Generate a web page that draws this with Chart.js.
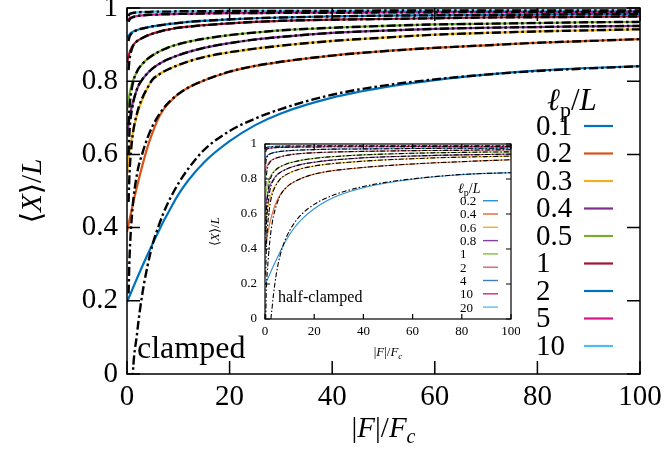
<!DOCTYPE html>
<html lang="en">
<head>
<meta charset="UTF-8">
<title>Mean extension vs. force</title>
<script src="https://cdn.jsdelivr.net/npm/chart.js@4"></script>
<style>
  html, body { margin: 0; padding: 0; background: #fff; }
  #wrap { position: relative; width: 665px; height: 459px; }
  #main { position: absolute; left: 0; top: 0; }
  #inset { position: absolute; left: 200px; top: 130px; }
</style>
</head>
<body>
<div id="wrap">
  <canvas id="main" width="665" height="459"></canvas>
  <canvas id="inset" width="320" height="240"></canvas>
</div>
<script>
// force grids |F|/Fc (simulation, theory)
const force    = [0,   0.5, 1, 2, 3, 4, 5, 6, 7, 8, 10, 12, 15, 20, 25, 30, 40, 50, 60, 70, 80, 90, 100];
const forceFit = [0.3, 0.5, 1, 2, 3, 4, 5, 6, 7, 8, 10, 12, 15, 20, 25, 30, 40, 50, 60, 70, 80, 90, 100];

const xTicks = [0, 20, 40, 60, 80, 100];
const yTicks = [0, 0.2, 0.4, 0.6, 0.8, 1];
const yTickLabels = ['0', '0.2', '0.4', '0.6', '0.8', '1'];

// clamped filament (main panel)
const lpClamped = ['0.1', '0.2', '0.3', '0.4', '0.5', '1', '2', '5', '10'];
const clampedColors = ['#0072BD', '#D95319', '#EDB120', '#7E2F8E', '#77AC30', '#A2142F', '#0072BD', '#D3168A', '#4DBEEE'];
const clampedSim = [
  [.197, .213, .230, .263, .295, .326, .356, .385, .414, .440, .490, .530, .578, .636, .680, .712, .755, .783, .803, .818, .829, .836, .841],
  [.388, .422, .455, .515, .570, .620, .660, .695, .720, .738, .765, .783, .802, .826, .842, .853, .870, .882, .891, .898, .905, .910, .915],
  [.545, .610, .650, .710, .750, .782, .805, .816, .825, .832, .844, .854, .866, .879, .889, .897, .910, .919, .927, .932, .936, .939, .942],
  [.650, .700, .735, .780, .805, .822, .835, .845, .853, .860, .871, .880, .891, .904, .914, .921, .932, .938, .943, .946, .948, .950, .951],
  [.720, .765, .795, .828, .847, .861, .871, .879, .886, .892, .901, .908, .916, .926, .933, .939, .946, .951, .955, .957, .959, .961, .962],
  [.850, .878, .895, .910, .918, .925, .930, .934, .938, .941, .946, .949, .953, .958, .962, .965, .968, .970, .972, .974, .975, .976, .977],
  [.918, .928, .934, .940, .944, .947, .950, .952, .954, .956, .959, .962, .965, .969, .972, .974, .977, .979, .980, .981, .982, .983, .984],
  [.967, .972, .975, .978, .980, .981, .982, .982, .983, .983, .984, .984, .985, .986, .986, .987, .987, .988, .988, .989, .989, .989, .990],
  [.980, .984, .986, .988, .989, .989, .990, .990, .990, .990, .991, .991, .991, .992, .992, .992, .992, .993, .993, .993, .993, .993, .993]
];
const clampedFit = [
  [-.50, -.30, -.04, .115, .220, .295, .355, .398, .436, .468, .520, .562, .612, .664, .698, .724, .763, .788, .805, .818, .828, .835, .841],
  [.220, .320, .440, .550, .603, .645, .678, .703, .724, .740, .765, .783, .802, .826, .842, .853, .870, .882, .891, .898, .905, .910, .915],
  [.470, .550, .640, .715, .755, .782, .805, .816, .825, .832, .844, .854, .866, .879, .889, .897, .910, .919, .927, .932, .936, .939, .942],
  [.600, .665, .725, .780, .805, .822, .835, .845, .853, .860, .871, .880, .891, .904, .914, .921, .932, .938, .943, .946, .948, .950, .951],
  [.680, .730, .785, .828, .847, .861, .871, .879, .886, .892, .901, .908, .916, .926, .933, .939, .946, .951, .955, .957, .959, .961, .962],
  [.830, .860, .890, .910, .918, .925, .930, .934, .938, .941, .946, .949, .953, .958, .962, .965, .968, .970, .972, .974, .975, .976, .977],
  [.910, .922, .932, .940, .944, .947, .950, .952, .954, .956, .959, .962, .965, .969, .972, .974, .977, .979, .980, .981, .982, .983, .984],
  [.962, .969, .974, .978, .980, .981, .982, .982, .983, .983, .984, .984, .985, .986, .986, .987, .987, .988, .988, .989, .989, .989, .990],
  [.978, .983, .986, .988, .989, .989, .990, .990, .990, .990, .991, .991, .991, .992, .992, .992, .992, .993, .993, .993, .993, .993, .993]
];

// half-clamped filament (inset)
const lpHalf = ['0.2', '0.4', '0.6', '0.8', '1', '2', '4', '10', '20'];
const halfColors = ['#2D8FD5', '#E0662E', '#EDB120', '#8A3E9C', '#86BC3C', '#CC6670', '#3B7DBF', '#DD1F86', '#55C3F2'];
const halfSim = [
  [.196, .210, .226, .258, .290, .320, .350, .380, .408, .434, .483, .523, .571, .630, .674, .707, .750, .779, .799, .814, .825, .832, .836],
  [.396, .440, .480, .550, .605, .648, .680, .705, .725, .742, .768, .785, .805, .828, .842, .852, .866, .877, .886, .893, .899, .905, .910],
  [.510, .580, .625, .690, .730, .758, .780, .797, .810, .820, .835, .847, .860, .874, .884, .891, .902, .910, .916, .921, .925, .928, .931],
  [.610, .670, .710, .760, .790, .810, .825, .836, .845, .852, .864, .873, .884, .896, .905, .911, .921, .927, .931, .935, .938, .940, .942],
  [.670, .730, .765, .810, .833, .848, .860, .869, .876, .882, .892, .899, .908, .918, .925, .930, .938, .943, .947, .950, .952, .954, .955],
  [.830, .862, .880, .900, .910, .917, .922, .926, .930, .933, .938, .942, .946, .950, .953, .955, .958, .960, .962, .963, .964, .966, .967],
  [.910, .926, .935, .944, .949, .952, .955, .957, .959, .960, .962, .964, .966, .968, .970, .971, .972, .973, .974, .975, .976, .976, .977],
  [.965, .970, .973, .976, .978, .979, .980, .980, .981, .981, .982, .982, .983, .983, .984, .984, .984, .985, .985, .985, .985, .985, .985],
  [.975, .980, .983, .985, .986, .987, .987, .988, .988, .988, .989, .989, .989, .990, .990, .990, .990, .990, .990, .990, .990, .990, .990]
];
const halfFit = [
  [-1.5, -1.0, -.60, -.10, .080, .200, .290, .355, .405, .445, .505, .550, .600, .655, .692, .719, .757, .783, .801, .815, .826, .832, .836],
  [.000, .150, .280, .450, .555, .620, .665, .700, .725, .742, .768, .785, .805, .828, .842, .852, .866, .877, .886, .893, .899, .905, .910],
  [.250, .380, .520, .650, .715, .752, .777, .797, .810, .820, .835, .847, .860, .874, .884, .891, .902, .910, .916, .921, .925, .928, .931],
  [.420, .520, .630, .735, .782, .806, .825, .836, .845, .852, .864, .873, .884, .896, .905, .911, .921, .927, .931, .935, .938, .940, .942],
  [.500, .600, .700, .790, .828, .846, .860, .869, .876, .882, .892, .899, .908, .918, .925, .930, .938, .943, .947, .950, .952, .954, .955],
  [.760, .810, .860, .895, .909, .917, .922, .926, .930, .933, .938, .942, .946, .950, .953, .955, .958, .960, .962, .963, .964, .966, .967],
  [.885, .910, .930, .943, .949, .952, .955, .957, .959, .960, .962, .964, .966, .968, .970, .971, .972, .973, .974, .975, .976, .976, .977],
  [.955, .965, .972, .976, .978, .979, .980, .980, .981, .981, .982, .982, .983, .983, .984, .984, .984, .985, .985, .985, .985, .985, .985],
  [.970, .978, .982, .985, .986, .987, .987, .988, .988, .988, .989, .989, .989, .990, .990, .990, .990, .990, .990, .990, .990, .990, .990]
];

const SERIF = '"Liberation Serif", "DejaVu Serif", serif';
const font = (size, italic) => (italic ? 'italic ' : '') + size + 'px ' + SERIF;

// draw a sequence of differently styled pieces of text on one baseline
function drawRuns(ctx, runs, x, y, align) {
  let w = 0;
  runs.forEach(r => { ctx.font = r.font; w += ctx.measureText(r.text).width; });
  let cx = align === 'center' ? x - w / 2 : x;
  runs.forEach(r => {
    ctx.font = r.font;
    ctx.fillText(r.text, cx, y + (r.dy || 0));
    cx += ctx.measureText(r.text).width;
  });
}

function makeDatasets(sim, fit, colors, labels, simWidth, fitWidth, dash) {
  const sets = [];
  sim.forEach((vals, i) => {
    sets.push({
      label: labels[i], order: 1,
      data: vals.map((v, k) => ({ x: force[k], y: v })),
      borderColor: colors[i], borderWidth: simWidth,
      pointRadius: 0, cubicInterpolationMode: 'monotone', fill: false
    });
  });
  fit.forEach((vals, i) => {
    sets.push({
      label: '', order: 0,
      data: vals.map((v, k) => ({ x: forceFit[k], y: v })),
      borderColor: '#000', borderWidth: fitWidth, borderDash: dash,
      pointRadius: 0, cubicInterpolationMode: 'monotone', fill: false
    });
  });
  return sets;
}

// frame, inward ticks, axis titles, legend and free labels
function decorPlugin(o) {
  return {
    id: 'decor',
    afterDraw(chart) {
      const ctx = chart.ctx, a = chart.chartArea;
      const xs = chart.scales.x, ys = chart.scales.y;
      ctx.save();
      ctx.strokeStyle = '#000';
      ctx.fillStyle = '#000';
      ctx.lineWidth = o.frameWidth;
      ctx.strokeRect(a.left, a.top, a.right - a.left, a.bottom - a.top);
      ctx.beginPath();
      xTicks.forEach(v => {
        const px = xs.getPixelForValue(v);
        ctx.moveTo(px, a.bottom); ctx.lineTo(px, a.bottom - o.tick);
        ctx.moveTo(px, a.top); ctx.lineTo(px, a.top + o.tick);
      });
      yTicks.forEach(v => {
        const py = ys.getPixelForValue(v);
        ctx.moveTo(a.left, py); ctx.lineTo(a.left + o.tick, py);
        ctx.moveTo(a.right, py); ctx.lineTo(a.right - o.tick, py);
      });
      ctx.stroke();

      ctx.textBaseline = 'alphabetic';
      const fs = o.titleSize, sub = Math.round(fs * 0.7);
      // x title |F|/F_c
      drawRuns(ctx, [
        { text: '|', font: font(fs) }, { text: 'F', font: font(fs, true) },
        { text: '|/', font: font(fs) }, { text: 'F', font: font(fs, true) },
        { text: 'c', font: font(sub, true), dy: fs * 0.22 }
      ], (a.left + a.right) / 2, o.xTitleY, 'center');
      // y title <X>/L
      ctx.save();
      ctx.translate(o.yTitleX, (a.top + a.bottom) / 2);
      ctx.rotate(-Math.PI / 2);
      drawRuns(ctx, [
        { text: '⟨', font: font(fs) }, { text: 'X', font: font(fs, true) },
        { text: '⟩/', font: font(fs) }, { text: 'L', font: font(fs, true) }
      ], 0, 0, 'center');
      ctx.restore();

      // legend
      const ls = o.legendSize;
      drawRuns(ctx, [
        { text: 'ℓ', font: font(o.legTitleSize, true) },
        { text: 'p', font: font(Math.round(o.legTitleSize * 0.7)), dy: o.legTitleSize * 0.22 },
        { text: '/', font: font(o.legTitleSize) }, { text: 'L', font: font(o.legTitleSize, true) }
      ], o.legTitleX, o.legTitleY, 'left');
      ctx.textBaseline = 'middle';
      o.labels.forEach((lab, i) => {
        const y = o.legY0 + i * o.legStep;
        ctx.font = font(ls);
        ctx.fillStyle = '#000';
        ctx.fillText(lab, o.legTextX, y + 1);
        ctx.strokeStyle = o.colors[i];
        ctx.lineWidth = o.legLine;
        ctx.beginPath();
        ctx.moveTo(o.legLineX0, y); ctx.lineTo(o.legLineX1, y);
        ctx.stroke();
      });

      // boundary-condition label
      ctx.textBaseline = 'alphabetic';
      ctx.fillStyle = '#000';
      ctx.font = font(o.noteSize);
      ctx.fillText(o.note, o.noteX, o.noteY);
      ctx.restore();
    }
  };
}

function scaleOpts(size, width, height, pad) {
  return {
    x: {
      type: 'linear', min: 0, max: 100,
      afterBuildTicks: s => { s.ticks = xTicks.map(v => ({ value: v })); },
      ticks: { font: { family: SERIF, size: size }, color: '#000', padding: pad.x, maxRotation: 0, autoSkip: false },
      grid: { display: false, drawTicks: false }, border: { display: false },
      afterFit: s => { s.height = height; s.paddingLeft = 0; s.paddingRight = 0; }
    },
    y: {
      type: 'linear', min: 0, max: 1,
      afterBuildTicks: s => { s.ticks = yTicks.map(v => ({ value: v })); },
      ticks: {
        font: { family: SERIF, size: size }, color: '#000', padding: pad.y, autoSkip: false,
        callback: v => yTickLabels[yTicks.indexOf(v)]
      },
      grid: { display: false, drawTicks: false }, border: { display: false },
      afterFit: s => { s.width = width; s.paddingTop = 0; s.paddingBottom = 0; }
    }
  };
}

new Chart(document.getElementById('main'), {
  type: 'line',
  data: { datasets: makeDatasets(clampedSim, clampedFit, clampedColors, lpClamped, 2.2, 2.4, [9, 3, 2.5, 3]) },
  options: {
    responsive: false, animation: false,
    layout: { padding: { left: 0, right: 25, top: 8, bottom: 0 } },
    plugins: { legend: { display: false }, tooltip: { enabled: false } },
    scales: scaleOpts(29, 127, 85, { x: 6, y: 9 })
  },
  plugins: [decorPlugin({
    frameWidth: 1.5, tick: 13, titleSize: 29, xTitleY: 437, yTitleX: 41,
    legendSize: 29, legTitleSize: 31, legTitleX: 547, legTitleY: 110, legY0: 126, legStep: 27.5,
    legTextX: 536, legLineX0: 584, legLineX1: 613, legLine: 2.2,
    labels: lpClamped, colors: clampedColors,
    note: 'clamped', noteSize: 32, noteX: 137, noteY: 358
  })]
});

new Chart(document.getElementById('inset'), {
  type: 'line',
  data: { datasets: makeDatasets(halfSim, halfFit, halfColors, lpHalf, 1.1, 1.1, [5, 2, 1.5, 2]) },
  options: {
    responsive: false, animation: false,
    layout: { padding: { left: 0, right: 9, top: 14, bottom: 0 } },
    plugins: { legend: { display: false }, tooltip: { enabled: false } },
    scales: scaleOpts(13, 65, 51, { x: 5, y: 8 })
  },
  plugins: [decorPlugin({
    frameWidth: 1.2, tick: 5, titleSize: 13, xTitleY: 226, yTitleX: 19,
    legendSize: 13, legTitleSize: 14, legTitleX: 258, legTitleY: 63, legY0: 70.7, legStep: 13.3,
    legTextX: 260, legLineX0: 283, legLineX1: 298, legLine: 1.4,
    labels: lpHalf, colors: halfColors,
    note: 'half-clamped', noteSize: 16, noteX: 78, noteY: 172
  })]
});
</script>
</body>
</html>
